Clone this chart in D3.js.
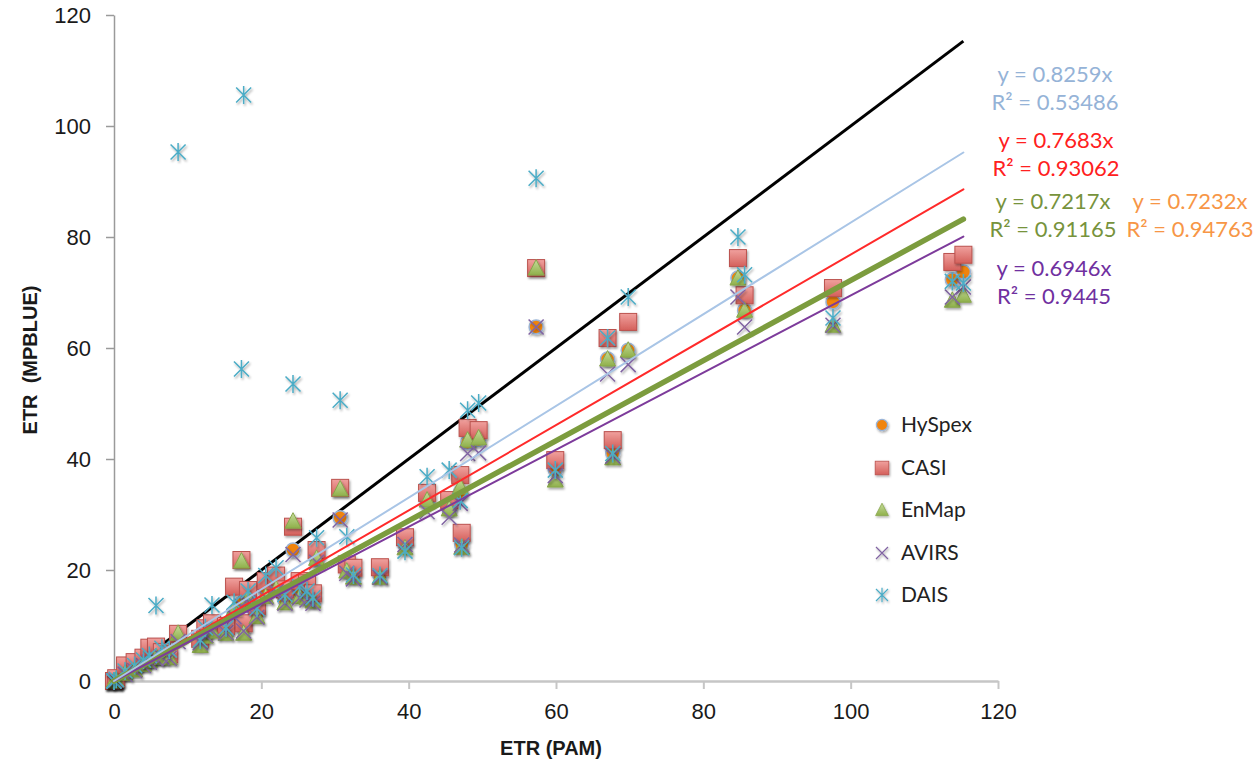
<!DOCTYPE html>
<html>
<head>
<meta charset="utf-8">
<script src="https://d3js.org/d3.v7.min.js"></script>
<style>
    body { margin: 0; background: #fff; }
    .axis text { font-family: "Liberation Sans", Arial, sans-serif; font-size: 22px; fill: #1a1a1a; }
    .title { font-family: "Liberation Sans", Arial, sans-serif; font-size: 20px; font-weight: bold; fill: #1a1a1a; }
    .eq { font-family: Lato, sans-serif; font-size: 22px; }
    .legend text { font-family: Lato, sans-serif; font-size: 21px; fill: #222; }
</style>
</head>
<body>
<svg id="chart" width="1260" height="763"></svg>
<script>
// ETR measured with the PAM (x) and estimated from each sensor (y), one entry per sample
const pam =    [0, 0, 0.3, 1.5, 2.8, 4.0, 4.8, 5.7, 6.5, 7.5, 8.7, 11.7, 12.4, 13.3, 15.2, 16.3, 17.3, 17.6, 18.2, 19.4,
                20.6, 22.0, 23.2, 24.3, 25.2, 26.2, 27.0, 27.5, 30.7, 31.6, 32.5, 36.1, 39.5, 42.5, 45.5, 47.0, 47.2, 48.0, 49.5, 57.3,
                59.9, 67.0, 67.7, 69.8, 84.7, 85.6, 97.6, 113.8, 115.3];
const hyspex = [0, 0, 0.2, 1.5, 2.2, 3.1, 3.6, 4.2, 4.6, 4.9, 7.6, 6.8, 8.5, 9.4, 9.0, 12.0, 14.0, 9.4, 15.0, 12.0,
                16.1, 17.0, 14.6, 23.6, 16.0, 15.6, 14.6, 22.0, 29.4, 20.0, 18.9, 19.0, 24.5, 32.6, 31.0, 34.0, 24.5, 43.0, 43.5, 63.8,
                38.0, 58.0, 41.0, 59.6, 72.6, 66.8, 68.3, 72.3, 73.7];
const casi =   [0, 0, 0.5, 2.8, 3.4, 4.2, 6.0, 6.2, 5.2, 4.8, 8.5, 7.6, 9.5, 10.4, 9.9, 17.0, 21.8, 10.4, 16.4, 13.5,
                18.0, 19.0, 16.5, 27.8, 18.0, 17.6, 15.8, 23.6, 34.8, 21.0, 20.4, 20.5, 25.9, 33.9, 32.6, 37.1, 26.7, 45.6, 45.2, 74.4,
                39.8, 61.8, 43.4, 64.7, 76.2, 69.5, 70.8, 75.5, 76.8];
const enmap =  [0, 0, 0.2, 1.4, 2.0, 3.0, 3.7, 4.4, 4.3, 4.2, 8.6, 6.4, 8.1, 9.0, 8.6, 13.0, 21.6, 8.6, 15.0, 11.6,
                15.2, 16.6, 14.1, 28.8, 15.2, 15.0, 14.4, 22.1, 34.6, 19.8, 18.7, 18.7, 24.0, 32.6, 31.0, 35.0, 24.1, 43.4, 43.8, 74.4,
                36.2, 58.0, 40.2, 59.6, 72.6, 66.8, 64.1, 68.6, 69.5];
const avirs =  [0, 0, 0.2, 1.2, 1.9, 2.8, 3.4, 4.0, 4.3, 4.1, 7.1, 6.9, 8.3, 9.1, 8.7, 11.6, 13.5, 9.0, 14.1, 11.5,
                15.1, 16.1, 14.0, 22.8, 15.0, 14.6, 14.0, 21.4, 29.0, 19.4, 18.4, 18.7, 24.6, 30.5, 29.5, 32.0, 24.5, 41.0, 41.1, 63.8,
                37.0, 55.3, 40.5, 57.0, 69.2, 63.8, 64.1, 69.2, 71.0];
const dais =   [0, 0, 0.3, 1.8, 2.8, 3.8, 4.6, 13.6, 5.9, 5.6, 95.3, 7.4, 9.6, 13.7, 9.6, 14.2, 56.2, 105.6, 16.2, 13.1,
                19.0, 20.4, 15.6, 53.5, 17.0, 16.2, 15.0, 25.8, 50.6, 26.0, 19.1, 19.0, 23.4, 36.8, 38.0, 32.5, 24.0, 48.8, 50.1, 90.6,
                38.0, 61.8, 41.0, 69.2, 80.0, 73.2, 65.4, 72.0, 71.7];

const sensors = ['HySpex', 'CASI', 'EnMap', 'AVIRS', 'DAIS'];
const xTickValues = [0, 20, 40, 60, 80, 100, 120];
const yTickValues = [0, 20, 40, 60, 80, 100, 120];

// linear trend lines through the origin, in the order they are drawn
const trendSeries = ['HySpex', 'CASI', 'EnMap', 'AVIRS', 'DAIS'];
const trendSlopes = [0.7232, 0.7683, 0.7217, 0.6946, 0.8259];
const trendR2 = ['0.94763', '0.93062', '0.91165', '0.9445', '0.53486'];

const values = { HySpex: hyspex, CASI: casi, EnMap: enmap, AVIRS: avirs, DAIS: dais };

const svg = d3.select('#chart');

// scales
const x = d3.scaleLinear().domain([0, 120]).range([114, 998]);
const y = d3.scaleLinear().domain([0, 120]).range([681, 15]);

// gradients and marker shadow
const defs = svg.append('defs');
const grad = (id, top, bottom) => {
    const lg = defs.append('linearGradient')
            .attr('id', id)
            .attr('x1', 0).attr('y1', 0)
            .attr('x2', 0).attr('y2', 1);
    lg.append('stop').attr('offset', '0%').attr('stop-color', top);
    lg.append('stop').attr('offset', '100%').attr('stop-color', bottom);
};
grad('gradCasi', '#f0a19e', '#d4605b');
grad('gradEnmap', '#c6dc9c', '#8fb04a');
defs.append('filter')
        .attr('id', 'shadow')
        .attr('x', '-50%').attr('y', '-50%')
        .attr('width', '200%').attr('height', '200%')
        .append('feDropShadow')
        .attr('dx', 1.2).attr('dy', 1.8)
        .attr('stdDeviation', 1.2)
        .attr('flood-color', '#000')
        .attr('flood-opacity', 0.35);

// marker shapes
const shapes = {
    HySpex: g => g.append('circle')
            .attr('r', 7)
            .attr('fill', '#f0840f')
            .attr('stroke', '#9ab5d8')
            .attr('stroke-width', 1.5),
    CASI: g => g.append('rect')
            .attr('x', -8.5).attr('y', -8.5)
            .attr('width', 17).attr('height', 17)
            .attr('fill', 'url(#gradCasi)')
            .attr('stroke', '#bb524e'),
    EnMap: g => g.append('path')
            .attr('d', 'M0,-8.5L8,7L-8,7Z')
            .attr('fill', 'url(#gradEnmap)')
            .attr('stroke', '#88a64c'),
    AVIRS: g => g.append('path')
            .attr('d', 'M-7.5,-7.5L7.5,7.5M-7.5,7.5L7.5,-7.5')
            .attr('fill', 'none')
            .attr('stroke', '#8064a2')
            .attr('stroke-width', 1.5),
    DAIS: g => g.append('path')
            .attr('d', 'M-7.5,-7.5L7.5,7.5M-7.5,7.5L7.5,-7.5M0,-9L0,9')
            .attr('fill', 'none')
            .attr('stroke', '#4bacc6')
            .attr('stroke-width', 1.5)
};

// axes
const yAxis = d3.axisLeft(y)
        .tickValues(yTickValues)
        .tickSizeInner(8)
        .tickSizeOuter(0)
        .tickPadding(15);
const xAxis = d3.axisBottom(x)
        .tickValues(xTickValues)
        .tickSizeInner(8)
        .tickSizeOuter(0)
        .tickPadding(14);

const yAxisG = svg.append('g')
        .attr('class', 'axis')
        .attr('transform', `translate(${x(0)}, 0)`)
        .call(yAxis);
yAxisG.select('.domain').attr('stroke', '#9a9a9a').attr('stroke-width', 1.5);
yAxisG.selectAll('.tick line').attr('stroke', '#9a9a9a').attr('stroke-width', 1.5);

const xAxisG = svg.append('g')
        .attr('class', 'axis')
        .attr('transform', `translate(0, ${y(0)})`)
        .call(xAxis);
xAxisG.select('.domain').attr('stroke', '#c6c6c6').attr('stroke-width', 2.5);
xAxisG.selectAll('.tick line').attr('stroke', '#c6c6c6').attr('stroke-width', 2);

// axis titles
svg.append('text')
        .attr('class', 'title')
        .attr('x', 551)
        .attr('y', 755)
        .attr('text-anchor', 'middle')
        .text('ETR (PAM)');
svg.append('text')
        .attr('class', 'title')
        .attr('transform', 'translate(37, 360) rotate(-90)')
        .attr('text-anchor', 'middle')
        .style('white-space', 'pre')
        .text('ETR  (MPBLUE)');

const xMax = d3.max(pam);

// 1:1 line, below the markers
svg.append('line')
        .attr('x1', x(0)).attr('y1', y(0))
        .attr('x2', x(xMax)).attr('y2', y(xMax))
        .attr('stroke', '#000')
        .attr('stroke-width', 3);

// markers, one series after another
sensors.forEach(name => {
    const g = svg.append('g').attr('class', `series ${name}`);
    pam.forEach((p, i) => {
        const m = g.append('g')
                .attr('transform', `translate(${x(p)}, ${y(values[name][i])})`)
                .attr('filter', 'url(#shadow)');
        shapes[name](m);
    });
});

// trend lines
const trendStyle = {
    HySpex: { color: '#f79646', width: 2 },
    CASI: { color: '#ff2a2a', width: 2 },
    EnMap: { color: '#7c9c3e', width: 5.5 },
    AVIRS: { color: '#7d3b9b', width: 2 },
    DAIS: { color: '#a9c5e6', width: 2 }
};
trendSeries.forEach((name, i) => {
    svg.append('line')
            .attr('x1', x(0)).attr('y1', y(0))
            .attr('x2', x(xMax)).attr('y2', y(trendSlopes[i] * xMax))
            .attr('stroke', trendStyle[name].color)
            .attr('stroke-width', trendStyle[name].width)
            .attr('stroke-linecap', 'round');
});

// equation labels
const labelPos = {
    HySpex: { x: 1190, y: 209, color: '#f79646' },
    CASI: { x: 1056, y: 148, color: '#ff2020' },
    EnMap: { x: 1053, y: 209, color: '#77933c' },
    AVIRS: { x: 1054, y: 276, color: '#7030a0' },
    DAIS: { x: 1055, y: 82, color: '#95b3d7' }
};
trendSeries.forEach((name, i) => {
    const pos = labelPos[name];
    const t = svg.append('text')
            .attr('class', 'eq')
            .attr('text-anchor', 'middle')
            .attr('fill', pos.color);
    t.append('tspan')
            .attr('x', pos.x)
            .attr('y', pos.y)
            .text(`y = ${trendSlopes[i]}x`);
    t.append('tspan')
            .attr('x', pos.x)
            .attr('y', pos.y + 28)
            .text(`R² = ${trendR2[i]}`);
});

// legend, with slightly smaller markers
const legendRows = [425, 468, 510, 553, 595];
const legend = svg.append('g').attr('class', 'legend');
sensors.forEach((name, i) => {
    const m = legend.append('g')
            .attr('transform', `translate(882, ${legendRows[i]}) scale(0.8)`)
            .attr('filter', 'url(#shadow)');
    shapes[name](m);
    legend.append('text')
            .attr('x', 901)
            .attr('y', legendRows[i])
            .attr('dy', '0.35em')
            .text(name);
});
</script>
</body>
</html>
